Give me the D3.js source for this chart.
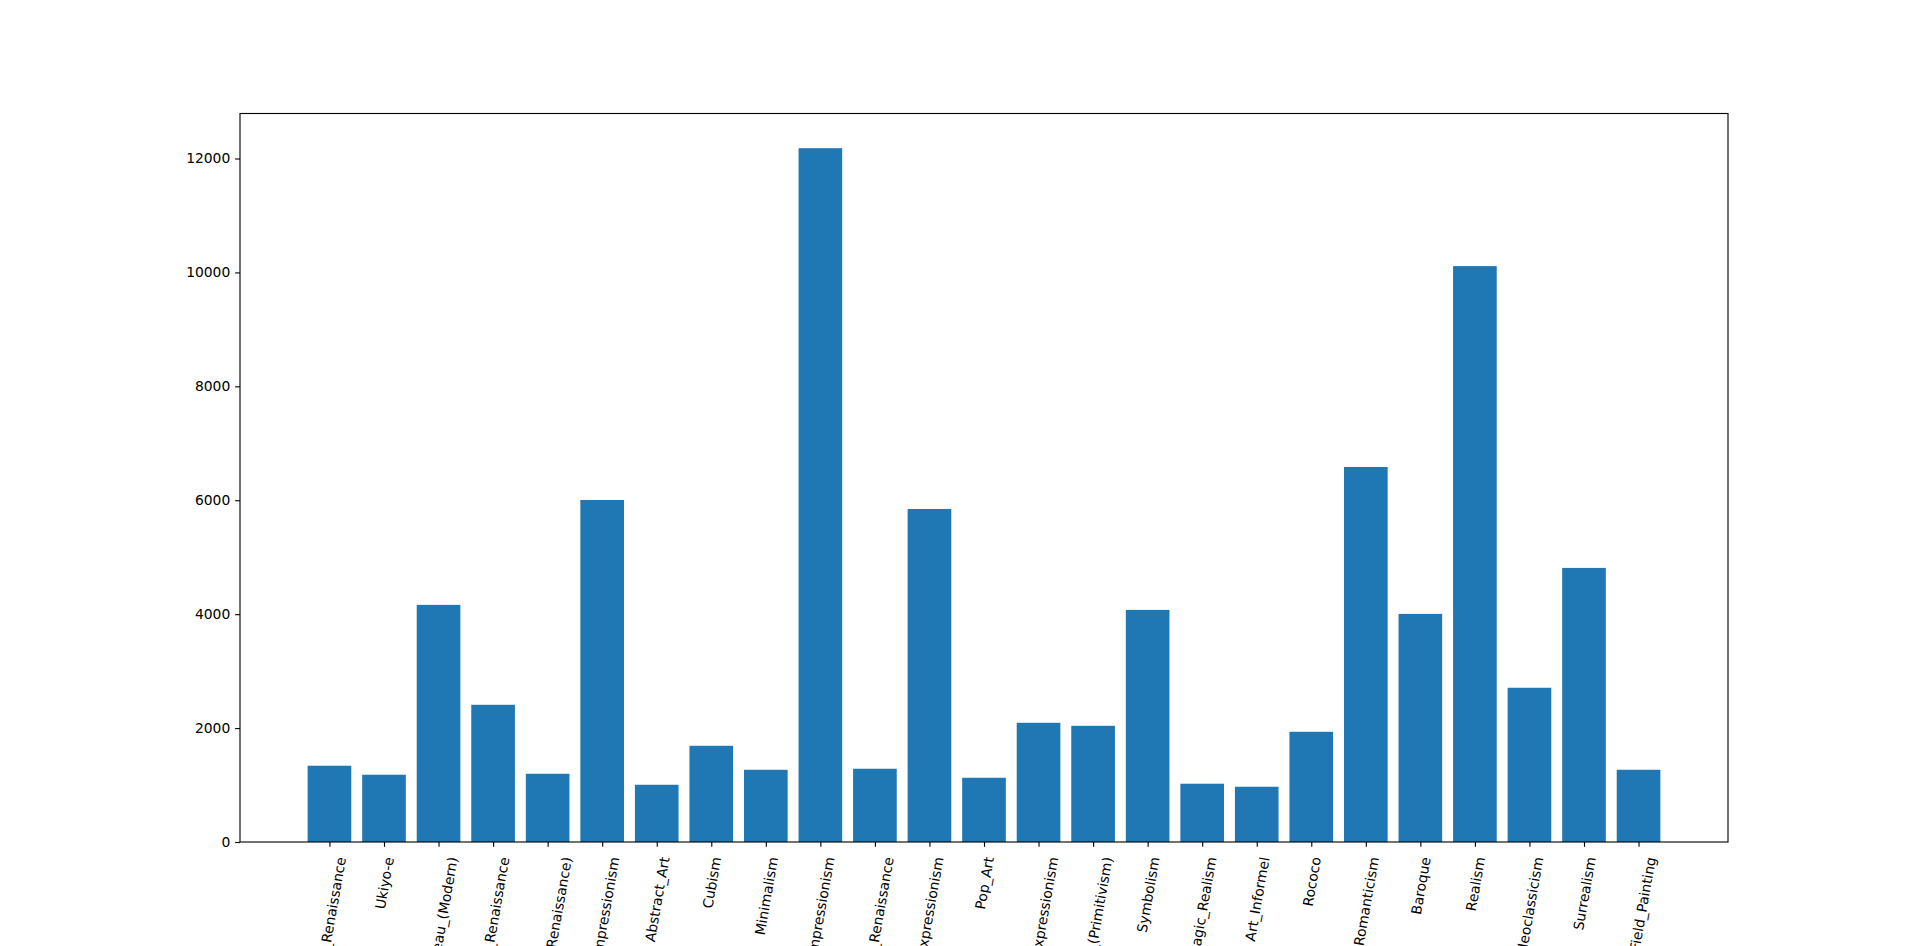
<!DOCTYPE html>
<html>
<head>
<meta charset="utf-8">
<script src="https://cdn.jsdelivr.net/npm/d3@7"></script>
<style>
  html, body { margin: 0; padding: 0; background: #ffffff; overflow: hidden; }
  svg { display: block; }
  text { font-family: "DejaVu Sans", sans-serif; fill: #000; }
</style>
</head>
<body>
<svg id="chart" width="1920" height="946"></svg>
<script>
const categories = [
  "Early_Renaissance", "Ukiyo-e", "Art_Nouveau_(Modern)", "High_Renaissance",
  "Mannerism_(Late_Renaissance)", "Post_Impressionism", "Abstract_Art", "Cubism",
  "Minimalism", "Impressionism", "Northern_Renaissance", "Expressionism", "Pop_Art",
  "Abstract_Expressionism", "Naive_Art_(Primitivism)", "Symbolism", "Magic_Realism",
  "Art_Informel", "Rococo", "Romanticism", "Baroque", "Realism", "Neoclassicism",
  "Surrealism", "Color_Field_Painting"
];
const counts = [
  1339, 1181, 4163, 2409, 1198, 6005, 1005, 1689, 1268, 12181, 1286, 5847, 1128,
  2093, 2040, 4075, 1023, 970, 1935, 6584, 4005, 10111, 2708, 4812, 1268
];
const yTicks = [0, 2000, 4000, 6000, 8000, 10000, 12000];

(function () {
const W = 1920, H = 946;
const mLeft = 240, mRight = 1728, mTop = 113.5, mBottom = 842;
const svg = d3.select("#chart");
svg.append("rect").attr("width", W).attr("height", H).attr("fill", "#fff");

const n = categories.length;
const barW = 0.8;
const xmin = -barW / 2, xmax = n - 1 + barW / 2;
const xm = (xmax - xmin) * 0.05;
const x = d3.scaleLinear().domain([xmin - xm, xmax + xm]).range([mLeft, mRight]);
const ymaxData = d3.max(counts);
const y = d3.scaleLinear().domain([0, ymaxData * 1.05]).range([mBottom, mTop]);

// bars
svg.append("g").selectAll("rect").data(counts).join("rect")
  .attr("x", (d, i) => x(i - barW / 2))
  .attr("width", (d, i) => x(i + barW / 2) - x(i - barW / 2))
  .attr("y", d => y(d))
  .attr("height", d => y(0) - y(d))
  .attr("fill", "#1f77b4");

const tickLen = 4.86, pad = 4.86, fs = 13.89, lw = 1.11;

// y axis
const yAxis = d3.axisLeft(y).tickValues(yTicks).tickSize(tickLen).tickPadding(pad).tickFormat(d3.format("d"));
const gy = svg.append("g").attr("transform", `translate(${mLeft},0)`).call(yAxis);
gy.select(".domain").remove();
gy.selectAll("line").attr("stroke", "#000").attr("stroke-width", lw);
gy.selectAll("text").style("font-size", fs + "px").style("font-family", "DejaVu Sans");

// x axis
const xAxis = d3.axisBottom(x).tickValues(d3.range(n)).tickSize(tickLen).tickFormat(i => categories[i]);
const gx = svg.append("g").attr("transform", `translate(0,${mBottom})`).call(xAxis);
gx.select(".domain").remove();
gx.selectAll("line").attr("stroke", "#000").attr("stroke-width", lw);
const textH = 16.2;
gx.selectAll("text")
  .style("font-size", fs + "px")
  .style("font-family", "DejaVu Sans")
  .attr("text-anchor", "end")
  .attr("dy", null)
  .attr("dominant-baseline", "central")
  .each(function () {
    const w = this.getComputedTextLength();
    const cx = 0.0868 * w;
    const cy = tickLen + pad + 0.0868 * textH + 4;
    d3.select(this).attr("x", 0).attr("y", 0)
      .attr("transform", `translate(${cx},${cy}) rotate(-80)`);
  });

// frame
svg.append("rect")
  .attr("x", mLeft).attr("y", mTop)
  .attr("width", mRight - mLeft).attr("height", mBottom - mTop)
  .attr("fill", "none").attr("stroke", "#000").attr("stroke-width", lw);
})();
</script>
</body>
</html>
